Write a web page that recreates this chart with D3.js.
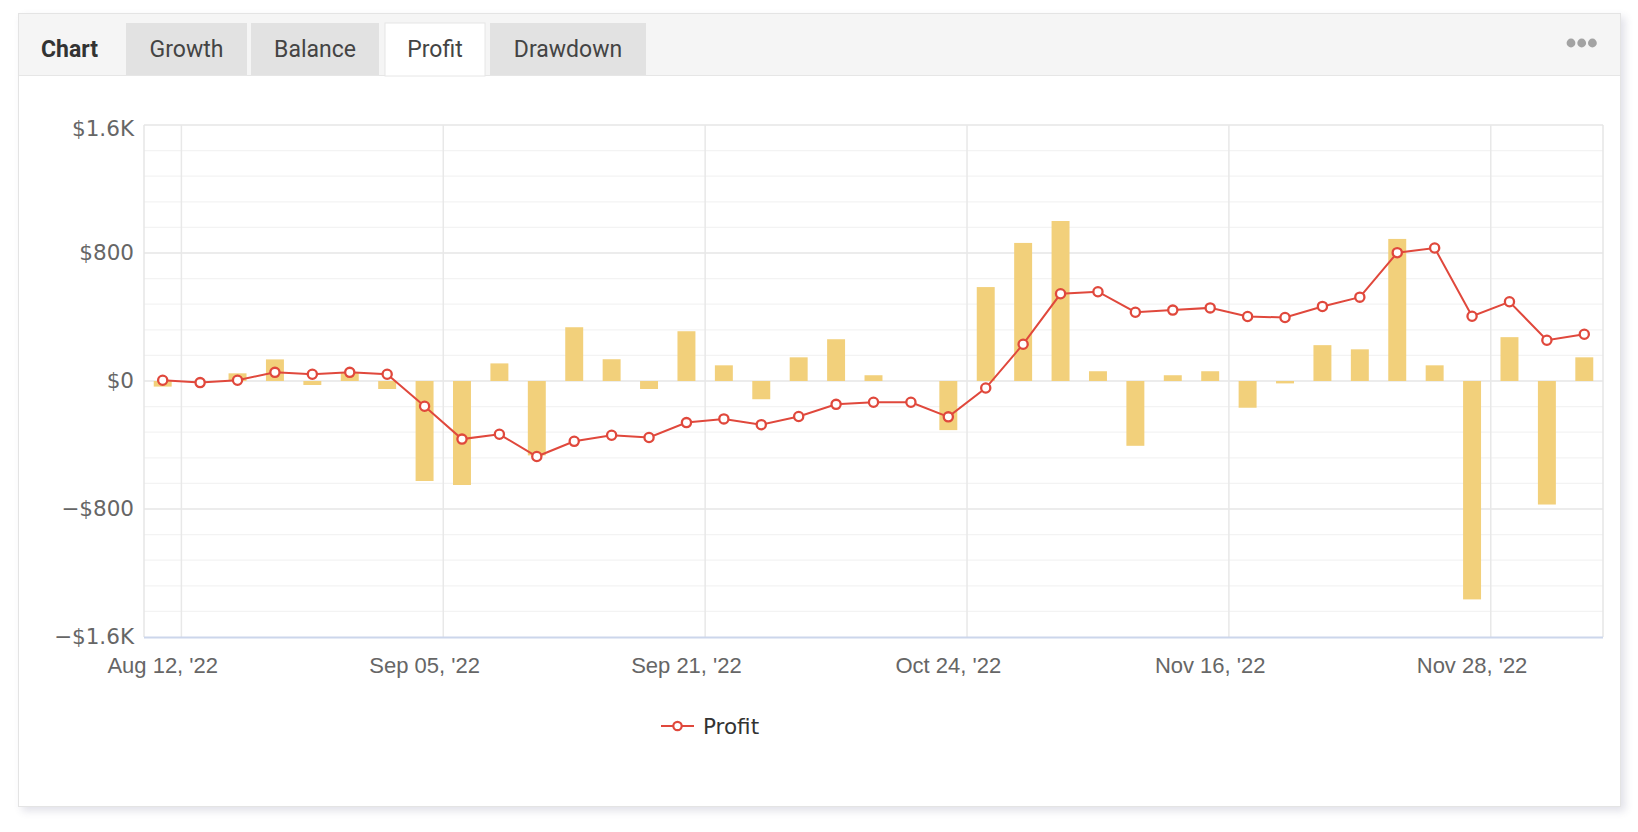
<!DOCTYPE html>
<html>
<head>
<meta charset="utf-8">
<script src="https://cdn.jsdelivr.net/npm/d3@7"></script>
<style>
  html, body { margin: 0; padding: 0; background: #fff; }
  body { width: 1638px; height: 832px; position: relative; overflow: hidden; }
  .card {
    position: absolute; left: 18px; top: 13px; width: 1603px; height: 794px;
    border: 1px solid #e4e4e4; box-sizing: border-box; background: #fff;
    box-shadow: 4px 4px 8px rgba(70, 70, 110, 0.16);
  }
  svg { position: absolute; left: 0; top: 0; }
</style>
</head>
<body>
<div class="card"></div>
<div id="chart"></div>
<script>
// Profit per period (bars) and running profit (line)
const barValues = [-35, 0, 48, 135, -25, 54, -50, -625, -650, 110,
  -465, 336, 136, -50, 311, 98, -114, 148, 261, 36,
  0, -307, 587, 863, 1000, 61, -405, 36, 61, -167,
  -15, 224, 198, 888, 98, -1365, 274, -772, 148];

const lineValues = [5, -10, 5, 54, 42, 54, 42, -158, -363, -333,
  -472, -377, -339, -353, -260, -237, -273, -222, -146, -133,
  -133, -224, -44, 230, 545, 558, 430, 443, 457, 403,
  397, 466, 524, 802, 831, 405, 495, 255, 292];

const tickLabels = ["Aug 12, '22", "Sep 05, '22", "Sep 21, '22", "Oct 24, '22", "Nov 16, '22", "Nov 28, '22"];
const tickEvery = 7;

const tabs = ["Growth", "Balance", "Profit", "Drawdown"];
const activeTab = "Profit";

const W = 1638, H = 832;
const margin = { top: 125, right: 35, bottom: 195, left: 144 };

const svg = d3.select("#chart").append("svg")
  .attr("width", W)
  .attr("height", H);

// Header bar with tabs
const header = svg.append("g");
header.append("rect")
  .attr("x", 19).attr("y", 14)
  .attr("width", 1601).attr("height", 61)
  .attr("fill", "#f5f5f5");
header.append("line")
  .attr("x1", 19).attr("x2", 1620)
  .attr("y1", 75.5).attr("y2", 75.5)
  .attr("stroke", "#e6e6e6");

header.append("text")
  .attr("x", 41).attr("y", 57)
  .attr("font-family", "Roboto")
  .attr("font-size", 23)
  .attr("font-weight", 700)
  .attr("fill", "#333")
  .text("Chart");

const tabX = d3.scaleOrdinal().domain(tabs).range([126, 251, 385, 490]);
const tabW = d3.scaleOrdinal().domain(tabs).range([121, 128, 100, 156]);

const tabG = header.selectAll("g.tab")
  .data(tabs)
  .join("g")
    .attr("class", "tab")
    .attr("transform", d => `translate(${tabX(d)},23)`);

tabG.append("rect")
  .attr("width", d => tabW(d))
  .attr("height", d => d === activeTab ? 53 : 52)
  .attr("fill", d => d === activeTab ? "#fff" : "#e2e2e2")
  .attr("stroke", d => d === activeTab ? "#e6e6e6" : "none");

tabG.append("text")
  .attr("x", d => tabW(d) / 2)
  .attr("y", 34)
  .attr("text-anchor", "middle")
  .attr("font-family", "Roboto")
  .attr("font-size", 23)
  .attr("fill", "#444")
  .text(d => d);

// the "more" dots
header.selectAll("circle.dot")
  .data([0, 1, 2])
  .join("circle")
    .attr("cx", i => 1571 + i * 10.7)
    .attr("cy", 43)
    .attr("r", 4.4)
    .attr("fill", "#a3a3a3");

// Scales
const x = d3.scaleBand()
  .domain(d3.range(barValues.length))
  .range([margin.left, W - margin.right])
  .paddingInner(0.52)
  .paddingOuter(0.26);

const y = d3.scaleLinear()
  .domain([-1600, 1600])
  .range([H - margin.bottom, margin.top]);

const step = x.step();
const cx = i => x(i) + x.bandwidth() / 2;

// Grid
const grid = svg.append("g");
grid.selectAll("line.minor")
  .data(d3.range(-1600, 1601, 160).filter(v => v % 800 !== 0))
  .join("line")
    .attr("x1", margin.left).attr("x2", W - margin.right)
    .attr("y1", d => y(d)).attr("y2", d => y(d))
    .attr("stroke", "#f3f3f3")
    .attr("stroke-width", 1.2);

grid.selectAll("line.major")
  .data([-800, 0, 800, 1600])
  .join("line")
    .attr("x1", margin.left).attr("x2", W - margin.right)
    .attr("y1", d => y(d)).attr("y2", d => y(d))
    .attr("stroke", "#e6e6e6")
    .attr("stroke-width", 1.5);

const tickIdx = tickLabels.map((_, k) => k * tickEvery);

grid.selectAll("line.vgrid")
  .data(tickIdx)
  .join("line")
    .attr("x1", i => x(i) - x.paddingOuter() * step + step)
    .attr("x2", i => x(i) - x.paddingOuter() * step + step)
    .attr("y1", margin.top).attr("y2", H - margin.bottom)
    .attr("stroke", "#e8e8e8")
    .attr("stroke-width", 1.5);

// plot frame sides
grid.selectAll("line.side")
  .data([margin.left, W - margin.right])
  .join("line")
    .attr("x1", d => d).attr("x2", d => d)
    .attr("y1", margin.top).attr("y2", H - margin.bottom)
    .attr("stroke", "#e6e6e6")
    .attr("stroke-width", 1.5);

// bottom axis line
svg.append("line")
  .attr("x1", margin.left).attr("x2", W - margin.right)
  .attr("y1", H - margin.bottom + 0.5).attr("y2", H - margin.bottom + 0.5)
  .attr("stroke", "#ccd6eb")
  .attr("stroke-width", 2);

// Y axis labels
const fmtY = v => {
  const a = Math.abs(v);
  const s = a >= 1000 ? `$${d3.format(".1f")(a / 1000)}K` : `$${a}`;
  return v < 0 ? "\u2212" + s : s;
};

const yAxis = d3.axisLeft(y)
  .tickValues([-1600, -800, 0, 800, 1600])
  .tickSize(0)
  .tickPadding(10)
  .tickFormat(fmtY);

svg.append("g")
  .attr("transform", `translate(${margin.left},0)`)
  .call(yAxis)
  .call(g => g.select(".domain").remove())
  .call(g => g.selectAll("text")
    .attr("font-family", "DejaVu Sans")
    .attr("font-size", 21.5)
    .attr("fill", "#666"))
  // top label sits a little lower, as in the original
  .call(g => g.selectAll(".tick").filter(d => d === 1600)
    .select("text").attr("y", 4));

// X labels
svg.append("g")
  .selectAll("text")
  .data(tickIdx)
  .join("text")
    .attr("x", i => cx(i))
    .attr("y", H - margin.bottom + 36)
    .attr("text-anchor", "middle")
    .attr("font-family", "Liberation Sans")
    .attr("font-size", 22)
    .attr("fill", "#666")
    .text((_, k) => tickLabels[k]);

// Bars
svg.append("g")
  .selectAll("rect")
  .data(barValues)
  .join("rect")
    .attr("x", (d, i) => x(i))
    .attr("y", d => y(Math.max(0, d)))
    .attr("width", x.bandwidth())
    .attr("height", d => Math.abs(y(d) - y(0)))
    .attr("fill", "#f2d07b");

// Line
const lineColor = "#e0483c";
const line = d3.line()
  .x((d, i) => cx(i))
  .y(d => y(d));

svg.append("path")
  .datum(lineValues)
  .attr("d", line)
  .attr("fill", "none")
  .attr("stroke", lineColor)
  .attr("stroke-width", 2);

svg.append("g")
  .selectAll("circle")
  .data(lineValues)
  .join("circle")
    .attr("cx", (d, i) => cx(i))
    .attr("cy", d => y(d))
    .attr("r", 4.6)
    .attr("fill", "#fff")
    .attr("stroke", lineColor)
    .attr("stroke-width", 2.3);

// Legend
const legend = svg.append("g")
  .attr("transform", "translate(661,726)");
legend.append("line")
  .attr("x1", 0).attr("x2", 33)
  .attr("stroke", lineColor)
  .attr("stroke-width", 2);
legend.append("circle")
  .attr("cx", 16.5)
  .attr("r", 4.2)
  .attr("fill", "#fff")
  .attr("stroke", lineColor)
  .attr("stroke-width", 2.2);
legend.append("text")
  .attr("x", 42)
  .attr("dy", "0.35em")
  .attr("font-family", "DejaVu Sans")
  .attr("font-size", 21.5)
  .attr("fill", "#333")
  .text("Profit");
</script>
</body>
</html>
